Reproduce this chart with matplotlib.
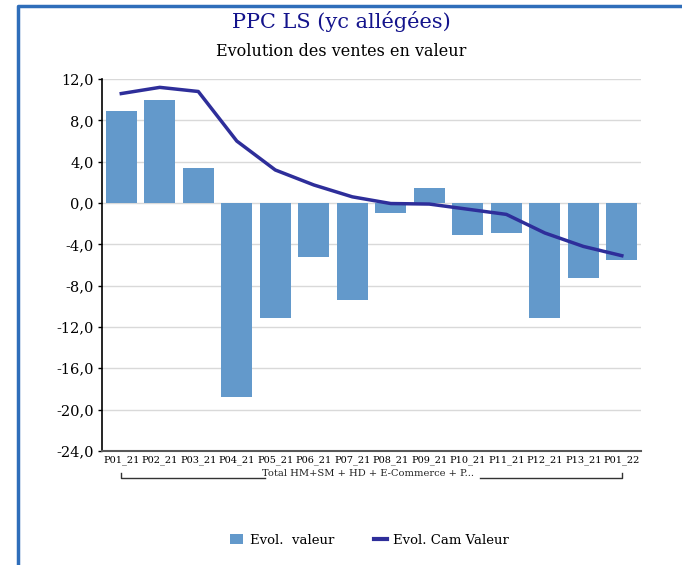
import matplotlib
matplotlib.use('Agg')
import matplotlib.pyplot as plt
from matplotlib.lines import Line2D
from matplotlib.patches import Patch
import numpy as np

plt.rcParams['font.family'] = ['DejaVu Serif']
plt.rcParams['axes.unicode_minus'] = False

# Données
periodes = ['P01_21', 'P02_21', 'P03_21', 'P04_21', 'P05_21', 'P06_21', 'P07_21',
            'P08_21', 'P09_21', 'P10_21', 'P11_21', 'P12_21', 'P13_21', 'P01_22']
evol_valeur = [8.9, 10.0, 3.4, -18.8, -11.1, -5.2, -9.4,
               -1.0, 1.5, -3.1, -2.9, -11.1, -7.3, -5.5]
evol_cam = [10.6, 11.2, 10.8, 6.0, 3.2, 1.75, 0.6,
            -0.05, -0.1, -0.6, -1.1, -2.9, -4.2, -5.1]
groupe = 'Total HM+SM + HD + E-Commerce + P...'
yticks = [12, 8, 4, 0, -4, -8, -12, -16, -20, -24]

fig = plt.figure(figsize=(6.82, 5.65), dpi=100)
ax = fig.add_axes([0.1496, 0.202, 0.7904, 0.658])

x = np.arange(len(periodes))
ax.bar(x, evol_valeur, width=0.8, color='#6399CB', zorder=2)
ax.plot(x, evol_cam, color='#2E2E9A', linewidth=2.5, zorder=3)

ax.set_xlim(-0.5, len(periodes) - 0.5)
ax.set_ylim(-24, 12)
ax.set_yticks(yticks)
ax.set_yticklabels([f'{v:.1f}'.replace('.', ',') for v in yticks], fontsize=10.5)
ax.set_xticks(x)
ax.set_xticklabels(periodes, fontsize=7)
ax.tick_params(axis='x', length=0, pad=3)
ax.tick_params(axis='y', length=3, width=1, color='black', pad=3)
ax.grid(True, axis='y', color='#D9D9D9', linewidth=1, zorder=0)

for s in ['top', 'right']:
    ax.spines[s].set_visible(False)
ax.spines['left'].set_color('black')
ax.spines['left'].set_linewidth(1.2)
ax.spines['bottom'].set_color('#595959')
ax.spines['bottom'].set_linewidth(1.5)

# Crochet du groupe sous les étiquettes
def fx(px):
    return px / 682

def fy(py):
    return 1 - py / 565

fig.text(fx(368), fy(473), groupe, ha='center', va='center', fontsize=7.1,
         color='#222222')
fig.add_artist(Line2D([fx(121), fx(121), fx(265)], [fy(473), fy(478), fy(478)],
                      color='#333333', linewidth=1, transform=fig.transFigure))
fig.add_artist(Line2D([fx(480), fx(622), fx(622)], [fy(478), fy(478), fy(473)],
                      color='#333333', linewidth=1, transform=fig.transFigure))

# Titres
fig.text(0.5, fy(22), 'PPC LS (yc allégées)', ha='center', va='center',
         fontsize=15, color='#14148C')
fig.text(0.5, fy(52), 'Evolution des ventes en valeur', ha='center', va='center',
         fontsize=11.5, color='black')

# Légende
handles = [Patch(facecolor='#6399CB', edgecolor='none', label='Evol.  valeur'),
           Line2D([0], [0], color='#2E2E9A', linewidth=3, label='Evol. Cam Valeur')]
fig.legend(handles=handles, loc='center', bbox_to_anchor=(0.542, fy(540)),
           ncol=2, frameon=False, fontsize=9.5, handlelength=1.0, handleheight=0.8,
           columnspacing=3.0, handletextpad=0.5)

# Cadre bleu
fig.add_artist(Line2D([fx(18), fx(18), 1.0], [0, fy(6), fy(6)],
                      color='#2F6EBA', linewidth=2.5, transform=fig.transFigure))

fig.savefig('out.png', dpi=100)
